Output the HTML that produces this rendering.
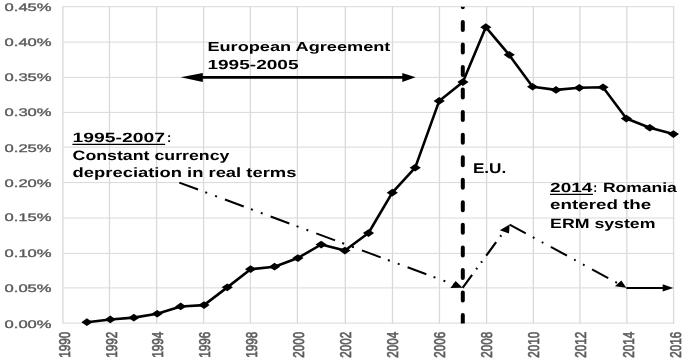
<!DOCTYPE html><html><head><meta charset="utf-8"><style>html,body{margin:0;padding:0;background:#fff;width:685px;height:364px;overflow:hidden}svg{display:block;text-rendering:geometricPrecision;will-change:transform;filter:blur(0.35px)}text{font-family:"Liberation Sans",sans-serif}</style></head><body>
<svg width="685" height="364" viewBox="0 0 685 364">
<rect width="685" height="364" fill="#fff"/>
<defs><clipPath id="pa"><rect x="61.9" y="6.7" width="612.7" height="316.9"/></clipPath></defs>
<line x1="62.9" y1="6.7" x2="674.2" y2="6.7" stroke="#d9d9d9" stroke-width="1"/>
<line x1="62.9" y1="42.1" x2="674.2" y2="42.1" stroke="#d9d9d9" stroke-width="1"/>
<line x1="62.9" y1="77.4" x2="674.2" y2="77.4" stroke="#d9d9d9" stroke-width="1"/>
<line x1="62.9" y1="112.4" x2="674.2" y2="112.4" stroke="#d9d9d9" stroke-width="1"/>
<line x1="62.9" y1="147.1" x2="674.2" y2="147.1" stroke="#d9d9d9" stroke-width="1"/>
<line x1="62.9" y1="182.6" x2="674.2" y2="182.6" stroke="#d9d9d9" stroke-width="1"/>
<line x1="62.9" y1="218.0" x2="674.2" y2="218.0" stroke="#d9d9d9" stroke-width="1"/>
<line x1="62.9" y1="253.4" x2="674.2" y2="253.4" stroke="#d9d9d9" stroke-width="1"/>
<line x1="62.9" y1="287.9" x2="674.2" y2="287.9" stroke="#d9d9d9" stroke-width="1"/>
<line x1="62.9" y1="323.1" x2="674.2" y2="323.1" stroke="#d9d9d9" stroke-width="1"/>
<line x1="62.9" y1="6.2" x2="62.9" y2="323.6" stroke="#d9d9d9" stroke-width="1.3"/>
<line x1="109.5" y1="6.2" x2="109.5" y2="323.6" stroke="#d9d9d9" stroke-width="1.3"/>
<line x1="156.6" y1="6.2" x2="156.6" y2="323.6" stroke="#d9d9d9" stroke-width="1.3"/>
<line x1="203.6" y1="6.2" x2="203.6" y2="323.6" stroke="#d9d9d9" stroke-width="1.3"/>
<line x1="250.4" y1="6.2" x2="250.4" y2="323.6" stroke="#d9d9d9" stroke-width="1.3"/>
<line x1="297.4" y1="6.2" x2="297.4" y2="323.6" stroke="#d9d9d9" stroke-width="1.3"/>
<line x1="345.3" y1="6.2" x2="345.3" y2="323.6" stroke="#d9d9d9" stroke-width="1.3"/>
<line x1="392.5" y1="6.2" x2="392.5" y2="323.6" stroke="#d9d9d9" stroke-width="1.3"/>
<line x1="439.5" y1="6.2" x2="439.5" y2="323.6" stroke="#d9d9d9" stroke-width="1.3"/>
<line x1="486.6" y1="6.2" x2="486.6" y2="323.6" stroke="#d9d9d9" stroke-width="1.3"/>
<line x1="533.3" y1="6.2" x2="533.3" y2="323.6" stroke="#d9d9d9" stroke-width="1.3"/>
<line x1="579.9" y1="6.2" x2="579.9" y2="323.6" stroke="#d9d9d9" stroke-width="1.3"/>
<line x1="626.8" y1="6.2" x2="626.8" y2="323.6" stroke="#d9d9d9" stroke-width="1.3"/>
<line x1="673.6" y1="6.2" x2="673.6" y2="323.6" stroke="#d9d9d9" stroke-width="1.3"/>
<text x="51.6" y="10.9" font-size="11.0" fill="#595959" stroke="#595959" stroke-width="0.35" text-anchor="end" textLength="47" lengthAdjust="spacingAndGlyphs">0.45%</text>
<text x="51.6" y="45.5" font-size="11.0" fill="#595959" stroke="#595959" stroke-width="0.35" text-anchor="end" textLength="47" lengthAdjust="spacingAndGlyphs">0.40%</text>
<text x="51.6" y="81.4" font-size="11.0" fill="#595959" stroke="#595959" stroke-width="0.35" text-anchor="end" textLength="47" lengthAdjust="spacingAndGlyphs">0.35%</text>
<text x="51.6" y="115.8" font-size="11.0" fill="#595959" stroke="#595959" stroke-width="0.35" text-anchor="end" textLength="47" lengthAdjust="spacingAndGlyphs">0.30%</text>
<text x="51.6" y="151.9" font-size="11.0" fill="#595959" stroke="#595959" stroke-width="0.35" text-anchor="end" textLength="47" lengthAdjust="spacingAndGlyphs">0.25%</text>
<text x="51.6" y="186.7" font-size="11.0" fill="#595959" stroke="#595959" stroke-width="0.35" text-anchor="end" textLength="47" lengthAdjust="spacingAndGlyphs">0.20%</text>
<text x="51.6" y="220.5" font-size="11.0" fill="#595959" stroke="#595959" stroke-width="0.35" text-anchor="end" textLength="47" lengthAdjust="spacingAndGlyphs">0.15%</text>
<text x="51.6" y="257.3" font-size="11.0" fill="#595959" stroke="#595959" stroke-width="0.35" text-anchor="end" textLength="47" lengthAdjust="spacingAndGlyphs">0.10%</text>
<text x="51.6" y="292.3" font-size="11.0" fill="#595959" stroke="#595959" stroke-width="0.35" text-anchor="end" textLength="47" lengthAdjust="spacingAndGlyphs">0.05%</text>
<text x="51.6" y="328.0" font-size="11.0" fill="#595959" stroke="#595959" stroke-width="0.35" text-anchor="end" textLength="47" lengthAdjust="spacingAndGlyphs">0.00%</text>
<text transform="translate(69.5,331.7) rotate(-90)" x="0" y="0" font-size="15.6" fill="#595959" stroke="#5f5f5f" stroke-width="0.7" text-anchor="end" textLength="26" lengthAdjust="spacingAndGlyphs" dy="0">1990</text>
<text transform="translate(116.9,331.7) rotate(-90)" x="0" y="0" font-size="15.6" fill="#595959" stroke="#5f5f5f" stroke-width="0.7" text-anchor="end" textLength="26" lengthAdjust="spacingAndGlyphs" dy="0">1992</text>
<text transform="translate(162.9,331.7) rotate(-90)" x="0" y="0" font-size="15.6" fill="#595959" stroke="#5f5f5f" stroke-width="0.7" text-anchor="end" textLength="26" lengthAdjust="spacingAndGlyphs" dy="0">1994</text>
<text transform="translate(209.8,331.7) rotate(-90)" x="0" y="0" font-size="15.6" fill="#595959" stroke="#5f5f5f" stroke-width="0.7" text-anchor="end" textLength="26" lengthAdjust="spacingAndGlyphs" dy="0">1996</text>
<text transform="translate(256.8,331.7) rotate(-90)" x="0" y="0" font-size="15.6" fill="#595959" stroke="#5f5f5f" stroke-width="0.7" text-anchor="end" textLength="26" lengthAdjust="spacingAndGlyphs" dy="0">1998</text>
<text transform="translate(303.9,331.7) rotate(-90)" x="0" y="0" font-size="15.6" fill="#595959" stroke="#5f5f5f" stroke-width="0.7" text-anchor="end" textLength="26" lengthAdjust="spacingAndGlyphs" dy="0">2000</text>
<text transform="translate(350.6,331.7) rotate(-90)" x="0" y="0" font-size="15.6" fill="#595959" stroke="#5f5f5f" stroke-width="0.7" text-anchor="end" textLength="26" lengthAdjust="spacingAndGlyphs" dy="0">2002</text>
<text transform="translate(398.1,331.7) rotate(-90)" x="0" y="0" font-size="15.6" fill="#595959" stroke="#5f5f5f" stroke-width="0.7" text-anchor="end" textLength="26" lengthAdjust="spacingAndGlyphs" dy="0">2004</text>
<text transform="translate(444.6,331.7) rotate(-90)" x="0" y="0" font-size="15.6" fill="#595959" stroke="#5f5f5f" stroke-width="0.7" text-anchor="end" textLength="26" lengthAdjust="spacingAndGlyphs" dy="0">2006</text>
<text transform="translate(491.5,331.7) rotate(-90)" x="0" y="0" font-size="15.6" fill="#595959" stroke="#5f5f5f" stroke-width="0.7" text-anchor="end" textLength="26" lengthAdjust="spacingAndGlyphs" dy="0">2008</text>
<text transform="translate(538.7,331.7) rotate(-90)" x="0" y="0" font-size="15.6" fill="#595959" stroke="#5f5f5f" stroke-width="0.7" text-anchor="end" textLength="26" lengthAdjust="spacingAndGlyphs" dy="0">2010</text>
<text transform="translate(585.7,331.7) rotate(-90)" x="0" y="0" font-size="15.6" fill="#595959" stroke="#5f5f5f" stroke-width="0.7" text-anchor="end" textLength="26" lengthAdjust="spacingAndGlyphs" dy="0">2012</text>
<text transform="translate(633.5,331.7) rotate(-90)" x="0" y="0" font-size="15.6" fill="#595959" stroke="#5f5f5f" stroke-width="0.7" text-anchor="end" textLength="26" lengthAdjust="spacingAndGlyphs" dy="0">2014</text>
<text transform="translate(680.7,331.7) rotate(-90)" x="0" y="0" font-size="15.6" fill="#595959" stroke="#5f5f5f" stroke-width="0.7" text-anchor="end" textLength="26" lengthAdjust="spacingAndGlyphs" dy="0">2016</text>
<path d="M86.9 322.2 L110.3 319.5 L133.8 317.6 L157.2 313.8 L180.7 306.5 L204.0 305.1 L227.3 287.4 L250.6 269.2 L274.5 266.7 L297.9 258.0 L321.2 244.5 L344.9 250.5 L368.5 233.0 L392.3 192.6 L415.2 167.6 L439.2 100.9 L462.9 82.0 L485.8 27.2 L509.2 54.9 L532.6 86.7 L556.0 89.9 L579.3 87.8 L603.0 87.2 L626.4 118.5 L649.8 127.7 L673.4 134.1" fill="none" stroke="#000" stroke-width="2.6" stroke-linejoin="round"/>
<path d="M86.9 318.3l5.6 3.85l-5.6 3.85l-5.6 -3.85z" fill="#000"/>
<path d="M110.3 315.6l5.6 3.85l-5.6 3.85l-5.6 -3.85z" fill="#000"/>
<path d="M133.8 313.8l5.6 3.85l-5.6 3.85l-5.6 -3.85z" fill="#000"/>
<path d="M157.2 309.9l5.6 3.85l-5.6 3.85l-5.6 -3.85z" fill="#000"/>
<path d="M180.7 302.6l5.6 3.85l-5.6 3.85l-5.6 -3.85z" fill="#000"/>
<path d="M204.0 301.2l5.6 3.85l-5.6 3.85l-5.6 -3.85z" fill="#000"/>
<path d="M227.3 283.5l5.6 3.85l-5.6 3.85l-5.6 -3.85z" fill="#000"/>
<path d="M250.6 265.3l5.6 3.85l-5.6 3.85l-5.6 -3.85z" fill="#000"/>
<path d="M274.5 262.8l5.6 3.85l-5.6 3.85l-5.6 -3.85z" fill="#000"/>
<path d="M297.9 254.2l5.6 3.85l-5.6 3.85l-5.6 -3.85z" fill="#000"/>
<path d="M321.2 240.7l5.6 3.85l-5.6 3.85l-5.6 -3.85z" fill="#000"/>
<path d="M344.9 246.7l5.6 3.85l-5.6 3.85l-5.6 -3.85z" fill="#000"/>
<path d="M368.5 229.2l5.6 3.85l-5.6 3.85l-5.6 -3.85z" fill="#000"/>
<path d="M392.3 188.8l5.6 3.85l-5.6 3.85l-5.6 -3.85z" fill="#000"/>
<path d="M415.2 163.8l5.6 3.85l-5.6 3.85l-5.6 -3.85z" fill="#000"/>
<path d="M439.2 97.1l5.6 3.85l-5.6 3.85l-5.6 -3.85z" fill="#000"/>
<path d="M462.9 78.2l5.6 3.85l-5.6 3.85l-5.6 -3.85z" fill="#000"/>
<path d="M485.8 23.3l5.6 3.85l-5.6 3.85l-5.6 -3.85z" fill="#000"/>
<path d="M509.2 51.0l5.6 3.85l-5.6 3.85l-5.6 -3.85z" fill="#000"/>
<path d="M532.6 82.9l5.6 3.85l-5.6 3.85l-5.6 -3.85z" fill="#000"/>
<path d="M556.0 86.1l5.6 3.85l-5.6 3.85l-5.6 -3.85z" fill="#000"/>
<path d="M579.3 84.0l5.6 3.85l-5.6 3.85l-5.6 -3.85z" fill="#000"/>
<path d="M603.0 83.4l5.6 3.85l-5.6 3.85l-5.6 -3.85z" fill="#000"/>
<path d="M626.4 114.7l5.6 3.85l-5.6 3.85l-5.6 -3.85z" fill="#000"/>
<path d="M649.8 123.9l5.6 3.85l-5.6 3.85l-5.6 -3.85z" fill="#000"/>
<path d="M673.4 130.2l5.6 3.85l-5.6 3.85l-5.6 -3.85z" fill="#000"/>
<g clip-path="url(#pa)"><line x1="462.8" y1="-0.65" x2="462.8" y2="330" stroke="#000" stroke-width="4" stroke-dasharray="8 14.55" stroke-linecap="round"/></g>
<line x1="200" y1="77.3" x2="404" y2="77.3" stroke="#000" stroke-width="2.8"/>
<path d="M180.7 77.3 L202.8 72.9 L202.8 81.9 Z" fill="#000"/>
<path d="M415.6 77.3 L402.3 72.9 L402.3 81.9 Z" fill="#000"/>
<line x1="179.3" y1="182.6" x2="455" y2="284.9" stroke="#000" stroke-width="2" stroke-dasharray="20 7.7 2 8.5 2 8.5"/>
<path d="M450.4 287.9 L455.6 281 L462.6 287.8 Z" fill="#000"/>
<line x1="462.6" y1="287.8" x2="504" y2="231.5" stroke="#000" stroke-width="2.2" stroke-dasharray="16.7 7.0 1.6 6.6 1.6 7.1" stroke-dashoffset="0.7"/>
<path d="M499.8 230.3 L509.6 224.6 L509 233.6 Z" fill="#000"/>
<line x1="509.6" y1="224.6" x2="620" y2="284.5" stroke="#000" stroke-width="2" stroke-dasharray="18.4 8.1 1.8 8.3 1.8 8.5"/>
<path d="M614.9 286.2 L621.3 280.5 L626.4 287.8 Z" fill="#000"/>
<line x1="626.3" y1="287.9" x2="664" y2="287.9" stroke="#000" stroke-width="2"/>
<path d="M673.3 287.9 L662.7 284.2 L662.7 291.5 Z" fill="#000"/>
<text x="207.4" y="50.8" font-size="13.0" font-weight="bold" fill="#000" textLength="183.0" lengthAdjust="spacingAndGlyphs" >European Agreement</text>
<text x="207.4" y="68.9" font-size="13.2" font-weight="bold" fill="#000" textLength="91.2" lengthAdjust="spacingAndGlyphs" >1995-2005</text>
<text x="72.6" y="141.7" font-size="13.4" font-weight="bold" fill="#000" textLength="92.4" lengthAdjust="spacingAndGlyphs" >1995-2007</text>
<text x="166.9" y="141.7" font-size="13.4" font-weight="bold" fill="#000" textLength="4.3" lengthAdjust="spacingAndGlyphs" >:</text>
<line x1="72.4" y1="144.3" x2="165.1" y2="144.3" stroke="#000" stroke-width="1.2"/>
<text x="72.6" y="159.7" font-size="13.5" font-weight="bold" fill="#000" textLength="156.8" lengthAdjust="spacingAndGlyphs" >Constant currency</text>
<text x="72.6" y="176.5" font-size="13.5" font-weight="bold" fill="#000" textLength="223.8" lengthAdjust="spacingAndGlyphs" >depreciation in real terms</text>
<text x="472.9" y="173.3" font-size="14.1" font-weight="bold" fill="#000" textLength="33.4" lengthAdjust="spacingAndGlyphs" >E.U.</text>
<text x="550.1" y="191.8" font-size="13.3" font-weight="bold" fill="#000" textLength="42.3" lengthAdjust="spacingAndGlyphs" >2014</text>
<text x="593.2" y="191.8" font-size="13.3" font-weight="bold" fill="#000" textLength="3.9" lengthAdjust="spacingAndGlyphs" >:</text>
<text x="602.9" y="191.8" font-size="13.3" font-weight="bold" fill="#000" textLength="73.9" lengthAdjust="spacingAndGlyphs" >Romania</text>
<line x1="550" y1="194.4" x2="593" y2="194.4" stroke="#000" stroke-width="1.2"/>
<text x="550.1" y="209.4" font-size="13.3" font-weight="bold" fill="#000" textLength="101.2" lengthAdjust="spacingAndGlyphs" >entered the</text>
<text x="550.1" y="227.8" font-size="13.3" font-weight="bold" fill="#000" textLength="105.4" lengthAdjust="spacingAndGlyphs" >ERM system</text>
</svg></body></html>
